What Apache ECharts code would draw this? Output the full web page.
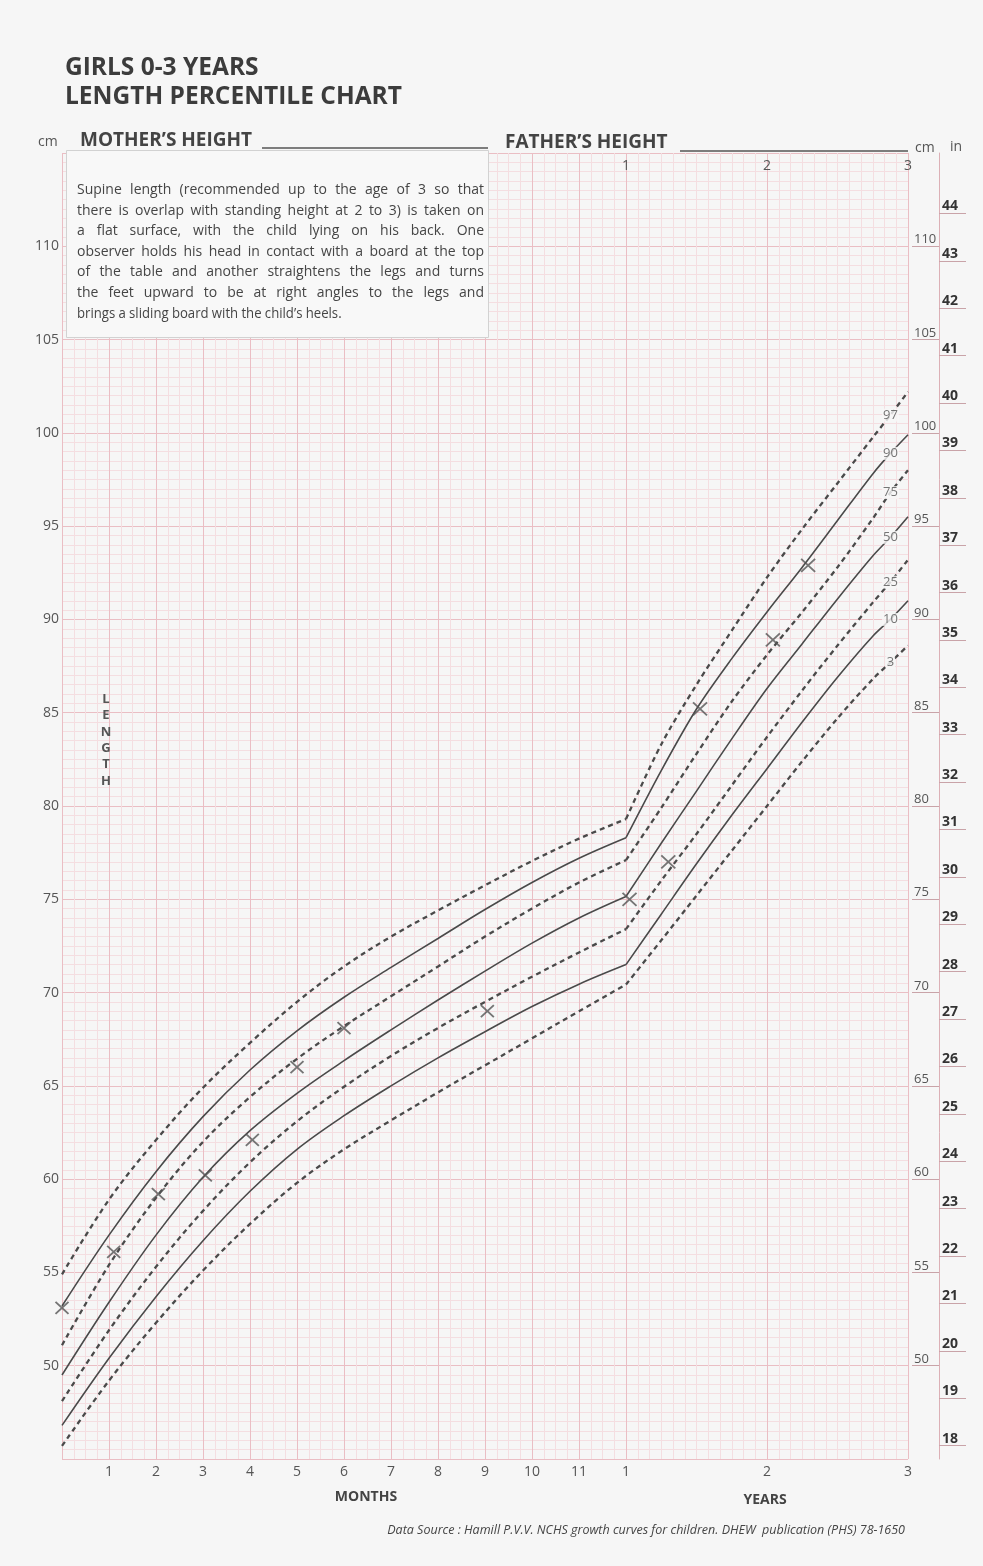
<!DOCTYPE html>
<html><head><meta charset="utf-8">
<script src="https://cdn.jsdelivr.net/npm/echarts@6.0.0/dist/echarts.min.js"></script>
<style>html,body{margin:0;padding:0;background:#f6f6f6;}#chart{width:983px;height:1566px;}</style>
</head><body><div id="chart"></div>
<script>
// ---------- data ----------
const monthsA = [0,1,2,3,4,5,6,7,8,9,10,11,12];
const p97A = [54.9,58.9,62.1,64.9,67.3,69.5,71.4,73.0,74.4,75.75,77.05,78.25,79.3];
const p90A = [53.2,57.0,60.4,63.35,65.85,67.95,69.75,71.35,72.9,74.45,75.9,77.2,78.3];
const p75A = [51.1,55.4,59.0,62.0,64.4,66.45,68.2,69.8,71.4,73.0,74.5,75.9,77.1];
const p50A = [49.5,53.4,57.0,60.1,62.6,64.6,66.35,68.0,69.6,71.15,72.65,74.0,75.15];
const p25A = [48.1,51.9,55.3,58.3,60.9,63.1,64.95,66.6,68.1,69.5,70.85,72.15,73.4];
const p10A = [46.8,50.4,53.7,56.7,59.35,61.6,63.4,65.0,66.5,67.9,69.25,70.45,71.5];
const p3A  = [45.7,49.2,52.3,55.1,57.6,59.8,61.6,63.15,64.65,66.1,67.55,69.0,70.43];

const monthsB = [12,15,18,21,24,27,30,33,34.5,36];
const p97B = [79.3,83.3,86.5,89.4,92.25,94.85,97.3,99.75,100.95,102.2];
const p90B = [78.3,81.9,85.2,87.9,90.4,92.8,95.3,97.8,98.9,99.9];
const p75B = [77.1,79.9,82.8,85.6,88.1,90.4,92.8,95.4,96.8,98.0];
const p50B = [75.15,78.0,80.8,83.6,86.3,88.7,91.1,93.4,94.4,95.5];
const p25B = [73.4,76.0,78.5,81.1,83.7,86.2,88.6,90.9,92.0,93.2];
const p10B = [71.5,74.2,76.9,79.5,82.0,84.5,86.9,89.1,90.0,91.0];
const p3B  = [70.43,72.8,75.2,77.6,80.0,82.4,84.7,86.8,87.7,88.6];

const percentileNames = ['97','90','75','50','25','10','3'];
const labelMonth = 34.5;

const patientMonthsA = [0,1.1,2.05,3.05,4.05,5.0,6.0,9.05];
const patientLengthA = [53.1,56.1,59.2,60.2,62.1,66.0,68.1,69.0];
const patientMonthsB = [12.3,15.6,18.3,24.5,27.5];
const patientLengthB = [75.0,77.0,85.2,88.9,92.9];

const monthTickValues = [1,2,3,4,5,6,7,8,9,10,11];
const yearTickValues = [12,24,36];
const cmTickValues = [50,55,60,65,70,75,80,85,90,95,100,105,110];
const inchTickValues = [18,19,20,21,22,23,24,25,26,27,28,29,30,31,32,33,34,35,36,37,38,39,40,41,42,43,44];

const boxLines = [
  'Supine length (recommended up to the age of 3 so that',
  'there is overlap with standing height at 2 to 3) is taken on',
  'a flat surface, with the child lying on his back. One',
  'observer holds his head in contact with a board at the top',
  'of the table and another straightens the legs and turns',
  'the feet upward to be at right angles to the legs and',
  'brings a sliding board with the child\u2019s heels.'
];

// ---------- styling ----------
const FONT = '"Open Sans", "Noto Sans", sans-serif';
const INK = '#4a4a4a';
const MINOR = '#f4dee1';
const MAJOR = '#eabec4';
const DASHED = {'97':true,'90':false,'75':true,'50':false,'25':true,'10':false,'3':true};

const pctA = [p97A,p90A,p75A,p50A,p25A,p10A,p3A];
const pctB = [p97B,p90B,p75B,p50B,p25B,p10B,p3B];

const series = [];
percentileNames.forEach((name, i) => {
  const ls = DASHED[name]
    ? {color: INK, width: 2.3, type: [5, 4]}
    : {color: INK, width: 1.6, type: 'solid'};
  series.push({
    type: 'line', name: 'P' + name + 'a', xAxisIndex: 0, yAxisIndex: 0,
    data: monthsA.map((m, j) => [m, pctA[i][j]]),
    smooth: 0.35, showSymbol: false, silent: true, lineStyle: ls, z: 3
  });
  series.push({
    type: 'line', name: 'P' + name + 'b', xAxisIndex: 1, yAxisIndex: 1,
    data: monthsB.map((m, j) => [m, pctB[i][j]]),
    smooth: 0.3, showSymbol: false, silent: true, lineStyle: ls, z: 3
  });
});
const labelIdx = monthsB.indexOf(labelMonth);
series.push({
  type: 'scatter', xAxisIndex: 1, yAxisIndex: 1, silent: true, z: 6,
  symbolSize: 1, itemStyle: {color: 'rgba(0,0,0,0)'},
  data: percentileNames.map((n, i) => ({name: n, value: [labelMonth, pctB[i][labelIdx]]})),
  label: {show: true, position: 'inside', formatter: '{b}', color: '#555', fontSize: 13,
    fontFamily: FONT, backgroundColor: '#f8f8f8', padding: [0, 1]}
});
const xSym = 'path://M0,0L10,10M10,0L0,10';
const markerStyle = {color: 'rgba(0,0,0,0)', borderColor: '#555', borderWidth: 1.8};
series.push({
  type: 'scatter', xAxisIndex: 0, yAxisIndex: 0, silent: true, z: 7, symbol: xSym, symbolSize: [13, 12],
  itemStyle: markerStyle, data: patientMonthsA.map((m, i) => [m, patientLengthA[i]]), clip: false
});
series.push({
  type: 'scatter', xAxisIndex: 1, yAxisIndex: 1, silent: true, z: 7, symbol: xSym, symbolSize: [14, 13],
  itemStyle: markerStyle, data: patientMonthsB.map((m, i) => [m, patientLengthB[i]]), clip: false
});

// ---------- layout ----------
const GT = 153, GH = 1306;
const grids = [
  {left: 62, top: GT, width: 564, height: GH},
  {left: 626, top: GT, width: 282, height: GH}
];
const yBase = {type: 'value', min: 45, max: 115, interval: 5,
  axisLine: {show: false}, axisTick: {show: false},
  splitLine: {show: true, lineStyle: {color: MAJOR, width: 1}},
  minorTick: {show: false, splitNumber: 10},
  minorSplitLine: {show: true, lineStyle: {color: MINOR, width: 1}}};

const option = {
  backgroundColor: '#f6f6f6',
  animation: false,
  grid: grids,
  xAxis: [
    {gridIndex: 0, type: 'value', min: 0, max: 12, interval: 1,
      axisLine: {show: false}, axisTick: {show: false},
      axisLabel: {customValues: monthTickValues, color: '#555', fontSize: 14, fontFamily: FONT, margin: 6},
      splitLine: {show: true, lineStyle: {color: MAJOR, width: 1}},
      minorTick: {show: false, splitNumber: 4},
      minorSplitLine: {show: true, lineStyle: {color: MINOR, width: 1}}},
    {gridIndex: 1, type: 'value', min: 12, max: 36, interval: 12,
      axisLine: {show: false}, axisTick: {show: false},
      axisLabel: {customValues: yearTickValues, formatter: v => String(v / 12), color: '#555', fontSize: 14, fontFamily: FONT, margin: 6},
      splitLine: {show: true, lineStyle: {color: MAJOR, width: 1}},
      minorTick: {show: false, splitNumber: 12},
      minorSplitLine: {show: true, lineStyle: {color: MINOR, width: 1}}},
    {gridIndex: 1, type: 'value', min: 12, max: 36, interval: 12, position: 'top',
      axisLine: {show: false}, axisTick: {show: false}, splitLine: {show: false},
      axisLabel: {inside: true, customValues: yearTickValues, formatter: v => String(v / 12), color: '#555', fontSize: 14, fontFamily: FONT, margin: 6}}
  ],
  yAxis: [
    Object.assign({}, yBase, {gridIndex: 0,
      axisLabel: {customValues: cmTickValues, color: '#555', fontSize: 14, fontFamily: FONT, margin: 3}}),
    Object.assign({}, yBase, {gridIndex: 1, axisLabel: {show: false}}),
    {gridIndex: 1, type: 'value', min: 45, max: 115, position: 'right', offset: 31,
      axisLine: {show: true, lineStyle: {color: '#dcb0b6', width: 1}},
      axisTick: {show: true, inside: true, length: 27, customValues: cmTickValues, lineStyle: {color: '#c9a3a8'}},
      axisLabel: {inside: true, customValues: cmTickValues, align: 'left', verticalAlign: 'bottom', margin: 25,
        color: '#555', fontSize: 13, fontFamily: FONT},
      splitLine: {show: false}},
    {gridIndex: 1, type: 'value', min: 45 / 2.54, max: 115 / 2.54, position: 'right', offset: 31,
      axisLine: {show: false},
      axisTick: {show: true, length: 27, customValues: inchTickValues, lineStyle: {color: '#c9a3a8'}},
      axisLabel: {customValues: inchTickValues, align: 'left', verticalAlign: 'bottom', margin: 3,
        color: '#333', fontSize: 14, fontWeight: 'bold', fontFamily: FONT},
      splitLine: {show: false}}
  ],
  series: series
};

// ---------- graphic texts ----------
const g = [];
function txt(x, y, s, opts) {
  g.push(Object.assign({type: 'text', x: x, y: y, silent: true, z: 20,
    style: Object.assign({text: s, fill: '#444', font: '14px ' + FONT, textAlign: 'left', textVerticalAlign: 'middle', verticalAlign: 'middle'}, opts || {})}));
}
function line(x1, y1, x2, y2, color, w) {
  g.push({type: 'line', silent: true, z: 20, shape: {x1: x1, y1: y1, x2: x2, y2: y2}, style: {stroke: color, lineWidth: w}});
}
txt(65, 68, 'GIRLS 0-3 YEARS', {font: 'bold 24.5px ' + FONT, fill: '#3c3c3c'});
txt(65, 97, 'LENGTH PERCENTILE CHART', {font: 'bold 24.5px ' + FONT, fill: '#3c3c3c'});
txt(38, 142, 'cm', {font: '14px ' + FONT, fill: '#555'});
txt(80, 141, 'MOTHER\u2019S HEIGHT', {font: 'bold 19px ' + FONT, fill: '#444'});
line(262, 148, 488, 148, '#555', 1.5);
txt(505, 143, 'FATHER\u2019S HEIGHT', {font: 'bold 19px ' + FONT, fill: '#444'});
line(680, 151, 908, 151, '#555', 1.5);
txt(915, 148, 'cm', {font: '14px ' + FONT, fill: '#555'});
txt(950, 147, 'in', {font: '14px ' + FONT, fill: '#555'});

// description box
g.push({type: 'rect', silent: true, z: 15, shape: {x: 66.5, y: 150.5, width: 422, height: 187},
  style: {fill: '#f8f8f8', stroke: '#d2d2d2', lineWidth: 1}});
(function () {
  const c = document.createElement('canvas').getContext('2d');
  const fs = 14;
  const f = fs + 'px ' + FONT;
  c.font = f;
  const X0 = 77, X1 = 484, W = X1 - X0;
  const sp = c.measureText(' ').width;
  boxLines.forEach((ln, i) => {
    const words = ln.split(' ');
    const ws = words.map(w => c.measureText(w).width);
    const sum = ws.reduce((a, b) => a + b, 0);
    const natural = sum + sp * (words.length - 1);
    let s = 1, gap = sp;
    const last = i === boxLines.length - 1;
    if (!last) {
      gap = (W - sum) / (words.length - 1);
      if (gap < sp * 0.7) { s = W / (sum + sp * 0.7 * (words.length - 1)); gap = sp * 0.7 * s; }
    } else if (natural > W) { s = W / natural; gap = sp * s; }
    else { s = 0.94; gap = sp * 0.9; }
    let x = X0;
    const y = 190 + i * 20.6;
    words.forEach((w, k) => {
      g.push({type: 'text', x: x, y: y, scaleX: s, silent: true, z: 21,
        style: {text: w, font: f, fill: '#454545', textAlign: 'left', textVerticalAlign: 'middle', verticalAlign: 'middle'}});
      x += ws[k] * s + gap;
    });
  });
})();

// LENGTH vertical
'LENGTH'.split('').forEach((ch, i) => {
  txt(106, 699 + i * 16.4, ch, {font: 'bold 13px ' + FONT, fill: '#555', textAlign: 'center'});
});
txt(366, 1497, 'MONTHS', {font: 'bold 14px ' + FONT, fill: '#444', textAlign: 'center'});
txt(765, 1500, 'YEARS', {font: 'bold 14px ' + FONT, fill: '#444', textAlign: 'center'});
txt(905, 1530, 'Data Source : Hamill P.V.V. NCHS growth curves for children. DHEW  publication (PHS) 78-1650',
  {font: 'italic 12.5px ' + FONT, fill: '#444', textAlign: 'right'});

option.graphic = g;

const chart = echarts.init(document.getElementById('chart'));
chart.setOption(option);
</script></body></html>
